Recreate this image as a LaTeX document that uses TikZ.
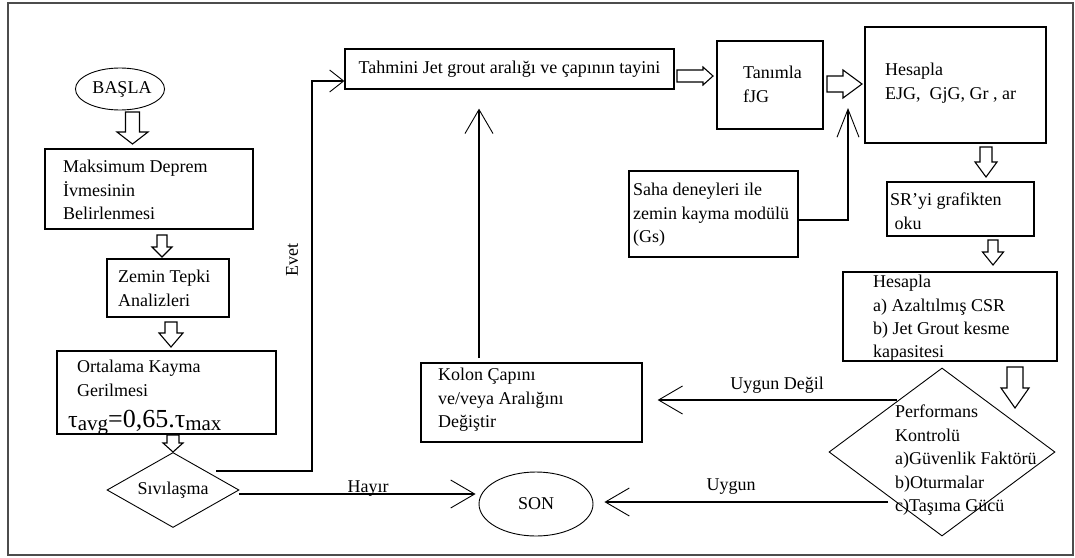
\documentclass[tikz,border=0pt]{standalone}
\usepackage{fontspec}
\setmainfont{Liberation Serif}
\usetikzlibrary{shapes.geometric,arrows.meta,calc}
\begin{document}
\begin{tikzpicture}[x=1pt,y=-1pt,
  every node/.style={font=\fontsize{18}{23.4}\selectfont, inner sep=0pt},
  box/.style={draw, line width=1.3pt, rectangle},
  txt/.style={anchor=north west, align=left},
  conn/.style={line width=1.1pt},
  barb/.style={-{Straight Barb[length=24pt,width=28pt,line width=0.9pt]}},
  blk/.style={draw, line width=1.1pt, fill=white, line join=miter},
  pics/bdown/.style n args={4}{code={
    \draw[blk] (-#2/2,0) -- (#2/2,0) -- (#2/2,#1-#4) -- (#3/2,#1-#4) -- (0,#1)
      -- (-#3/2,#1-#4) -- (-#2/2,#1-#4) -- cycle;}},
  pics/bright/.style n args={4}{code={
    \draw[blk] (0,-#2/2) -- (#1-#4,-#2/2) -- (#1-#4,-#3/2) -- (#1,0)
      -- (#1-#4,#3/2) -- (#1-#4,#2/2) -- (0,#2/2) -- cycle;}},
]
\useasboundingbox (0,0) rectangle (1075,557);
\node[draw, line width=1.6pt, black!70, minimum width=1065pt, minimum height=552pt] (frame) at (540.5,279) {};

% start / end
\node[draw, ellipse, line width=0.9pt, minimum width=80pt, minimum height=42pt] (basla) at (120,89) {\hspace{4pt}BAŞLA};
\node[draw, ellipse, line width=0.9pt, minimum width=114pt, minimum height=64pt] (son) at (536,504) {SON\hspace{30pt}};

% boxes
\node[box, minimum width=208pt, minimum height=80pt] (maks) at (149,189) {};
\node[txt] (maksT) at (63,160) {Maksimum Deprem\\İvmesinin\\Belirlenmesi};
\node[box, minimum width=122pt, minimum height=58pt] (zem) at (168,288) {};
\node[txt] (zemT) at (118,270) {Zemin Tepki\\Analizleri};
\node[box, minimum width=219pt, minimum height=83pt] (ort) at (166.5,392.5) {};
\node[txt] (ortT) at (77,360) {Ortalama Kayma\\Gerilmesi};
\node[anchor=base west] (ortF) at (68,427) {{\fontsize{24}{26}\selectfont τ}\raisebox{-3pt}{\fontsize{21}{22}\selectfont avg}{\fontsize{26}{28}\selectfont =0,65.τ}\raisebox{-3pt}{\fontsize{21}{22}\selectfont max}};
\node[draw, diamond, aspect=1.76, line width=0.9pt, minimum width=132pt, minimum height=75pt] (siv) at (173,490) {Sıvılaşma};

\node[box, minimum width=329pt, minimum height=40pt] (tah) at (509.5,69) {Tahmini Jet grout aralığı ve çapının tayini};
\node[box, minimum width=106pt, minimum height=88pt] (tan) at (770,85) {};
\node[txt] (tanT) at (743,66) {Tanımla\\fJG};
\node[box, minimum width=181pt, minimum height=116pt] (hes) at (955.5,85) {};
\node[txt] (hesT) at (885,63) {Hesapla\\EJG,\ \ GjG, Gr , ar};
\node[box, minimum width=169pt, minimum height=86pt] (saha) at (713.5,214) {};
\node[txt] (sahaT) at (633,183) {Saha deneyleri ile\\zemin kayma modülü\\(Gs)};
\node[box, minimum width=147pt, minimum height=54pt] (sr) at (960.5,209) {};
\node[txt] (srT) at (890,193) {SR'yi grafikten\\\ oku};
\node[box, minimum width=214pt, minimum height=89pt] (hes2) at (950,316.5) {};
\node[txt] (hes2T) at (873,275) {Hesapla\\a) Azaltılmış CSR\\b) Jet Grout kesme\\kapasitesi};
\node[box, minimum width=221pt, minimum height=79pt] (kol) at (531.5,402.5) {};
\node[txt] (kolT) at (438,368) {Kolon Çapını\\ve/veya Aralığını\\Değiştir};
\node[draw, diamond, aspect=1.345, line width=0.9pt, minimum width=226pt, minimum height=168pt] (perf) at (942,452) {};
\node[txt] (perfT) at (895,405) {Performans\\Kontrolü\\a)Güvenlik Faktörü\\b)Oturmalar\\c)Taşıma Gücü};

% block arrows
\pic (a1) at (132.5,112) {bdown={32}{14}{31}{12}};
\pic (a2) at (162,235) {bdown={22}{10}{20}{10}};
\pic (a3) at (171,322) {bdown={25}{12}{24}{14}};
\pic (a4) at (173,435) {bdown={17}{12}{20}{9}};
\pic (a5) at (677,76) {bright={36}{12}{18}{10}};
\pic (a6) at (827,84) {bright={35}{16}{28}{19}};
\pic (a7) at (986,147) {bdown={30}{12}{22}{15}};
\pic (a8) at (993,240) {bdown={25}{10}{21}{13}};
\pic (a9) at (1015,367) {bdown={41}{16}{28}{20}};

% connectors
\coordinate (evs) at ([xshift=10pt]siv.north east);
\coordinate (evc) at (312,81);
\draw[conn, -{Straight Barb[length=14pt,width=22pt,line width=0.9pt]}] (evs) -| (evc) -- (tah.west |- evc);
\node[rotate=90] (evet) at (292,260) {Evet};

\coordinate (hy) at ([yshift=-4pt]siv.east);
\draw[conn, barb, shorten >=3pt] (hy) -- (son.west |- hy);
\node (hayir) at (368,489) {Hayır};

\coordinate (ug) at (888,502);
\draw[conn, barb, shorten >=11pt] (ug) -- (son.east |- ug);
\node (uygun) at (731,487) {Uygun};

\coordinate (ud) at (897,400);
\draw[conn, barb, shorten >=15pt] (ud) -- (kol.east |- ud);
\node (uygd) at (777,385) {Uygun Değil};

\coordinate (kx) at (479,358);
\draw[conn, barb, shorten >=19pt] (kx) -- (kx |- tah.south);

\coordinate (sx) at (848,108);
\draw[conn, -{Straight Barb[length=28pt,width=22pt,line width=0.9pt]}] ([yshift=-6pt]saha.east) -| (sx);
\end{tikzpicture}
\end{document}
